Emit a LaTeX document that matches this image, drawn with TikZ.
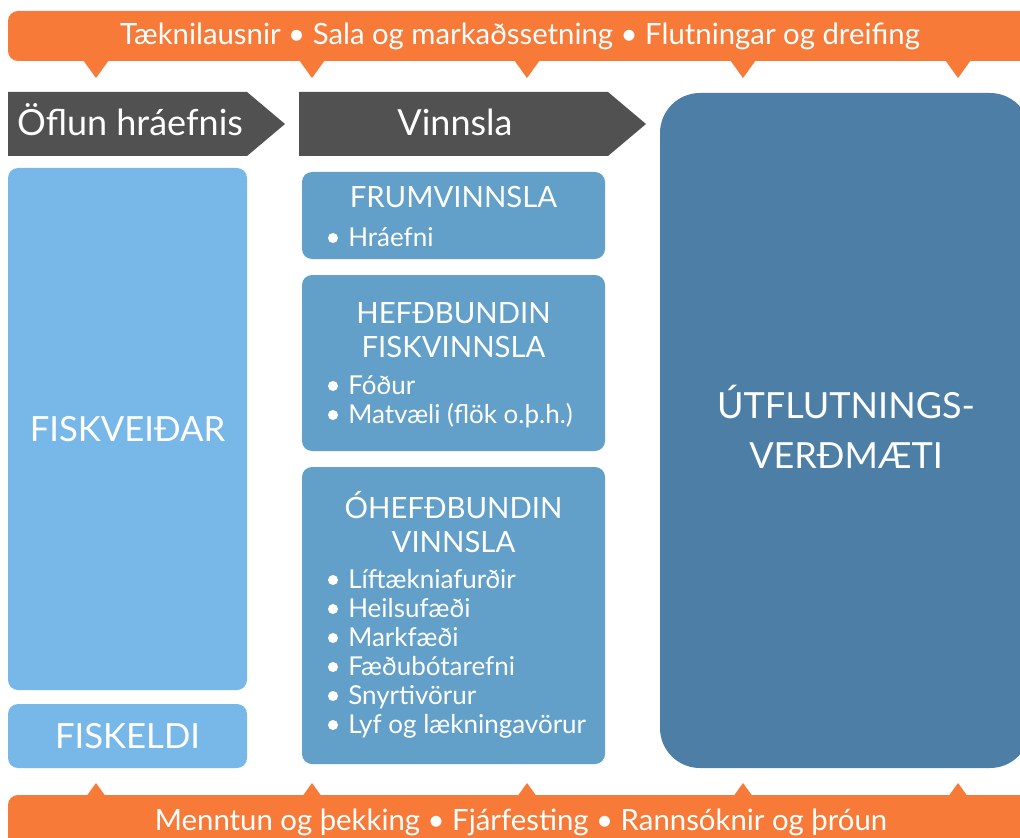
\documentclass[tikz,border=0pt]{standalone}
\usepackage{fontspec}
\setmainfont{Lato}
\usetikzlibrary{positioning}
\definecolor{bannerorange}{HTML}{F77A38}
\definecolor{chevrongray}{HTML}{515151}
\definecolor{rawblue}{HTML}{78B8E8}
\definecolor{procblue}{HTML}{62A0C9}
\definecolor{exportblue}{HTML}{4D7FA6}
\tikzset{
    banner/.style={fill=bannerorange, rounded corners=7.5pt, inner sep=0pt, text=white,
        font=\fontsize{22}{26}\selectfont},
    tick/.style={fill=bannerorange},
    chevron/.style={fill=chevrongray},
    stagelabel/.style={text=white, inner sep=0pt, font=\fontsize{27}{32}\selectfont},
    rawbox/.style={fill=rawblue, rounded corners=7.5pt, inner sep=0pt, text=white,
        font=\fontsize{26}{30}\selectfont},
    procbox/.style={fill=procblue, rounded corners=7.5pt, inner sep=0pt},
    boxtitle/.style={text=white, inner sep=0pt, align=center,
        font=\fontsize{22}{25.5}\selectfont},
    bulletitem/.style={text=white, inner sep=0pt, anchor=base west,
        font=\fontsize{19.5}{21}\selectfont},
    itemdot/.style={fill=white},
    exportbox/.style={fill=exportblue, rounded corners=30pt, inner sep=0pt},
    exportlabel/.style={text=white, inner sep=0pt, align=center,
        font=\fontsize{27}{37.5}\selectfont}
}

\begin{document}
\begin{tikzpicture}[x=0.75pt, y=-0.75pt]
    \useasboundingbox (0,0) rectangle (1020,838);

    \node[banner, minimum width=768pt, minimum height=37.5pt] (topbanner) at (520,36)
        {Tæknilausnir • Sala og markaðssetning • Flutningar og dreifing};
    \foreach \x in {96,312,527,743,958}
        \fill[tick] (\x-18,53) -- (\x+18,53) -- (\x,78) -- cycle;

    \fill[chevron] (8,92) -- (247,92) -- (285,124) -- (247,156) -- (8,156) -- cycle;
    \fill[chevron] (299,92) -- (608,92) -- (646,124) -- (608,156) -- (299,156) -- cycle;
    \node[stagelabel] (oflun) at (130,120) {Öflun hráefnis};
    \node[stagelabel] (vinnsla) at (455,122) {Vinnsla};

    \node[rawbox, minimum width=179.25pt, minimum height=391.5pt] (fiskveidar) at (127.5,429) {FISKVEIÐAR};
    \node[rawbox, minimum width=179.25pt, minimum height=48pt] (fiskeldi) at (127.5,736) {FISKELDI};

    \node[procbox, minimum width=227.25pt, minimum height=65.25pt] (frum) at (453.5,215.5) {};
    \node[boxtitle] (frumtitle) at (453.5,197) {FRUMVINNSLA};
    \node[bulletitem] (frum-1) at (348,246) {Hráefni};
    \fill[itemdot] (333,238) circle (5);

    \node[procbox, minimum width=227.25pt, minimum height=132pt] (hefd) at (453.5,363) {};
    \node[boxtitle] (hefdtitle) at (453.5,330) {HEFÐBUNDIN\\FISKVINNSLA};
    \foreach \entry [count=\i] in {Fóður, Matvæli (flök o.þ.h.)} {
        \node[bulletitem] (hefd-\i) at (348,365+29*\i) {\entry};
        \fill[itemdot] (333,357+29*\i) circle (5);
    }

    \node[procbox, minimum width=227.25pt, minimum height=222.75pt] (ohefd) at (453.5,615.5) {};
    \node[boxtitle] (ohefdtitle) at (453.5,522.5) {ÓHEFÐBUNDIN\\VINNSLA};
    \foreach \entry [count=\i] in {Líftækniafurðir, Heilsufæði, Markfæði, Fæðubótarefni, Snyrtivörur, Lyf og lækningavörur} {
        \node[bulletitem] (ohefd-\i) at (348,559+29*\i) {\entry};
        \fill[itemdot] (333,551+29*\i) circle (5);
    }

    \node[exportbox, minimum width=277.5pt, minimum height=506.25pt] (export) at (845,430.5) {};
    \node[exportlabel] (exporttext) at (846,427) {ÚTFLUTNINGS-\\VERÐMÆTI};

    \foreach \x in {96,312,527,743,958}
        \fill[tick] (\x-18,808) -- (\x+18,808) -- (\x,783) -- cycle;
    \node[banner, minimum width=769.5pt, minimum height=41.25pt] (bottombanner) at (521,822.5)
        {Menntun og þekking • Fjárfesting • Rannsóknir og þróun};
\end{tikzpicture}
\end{document}
